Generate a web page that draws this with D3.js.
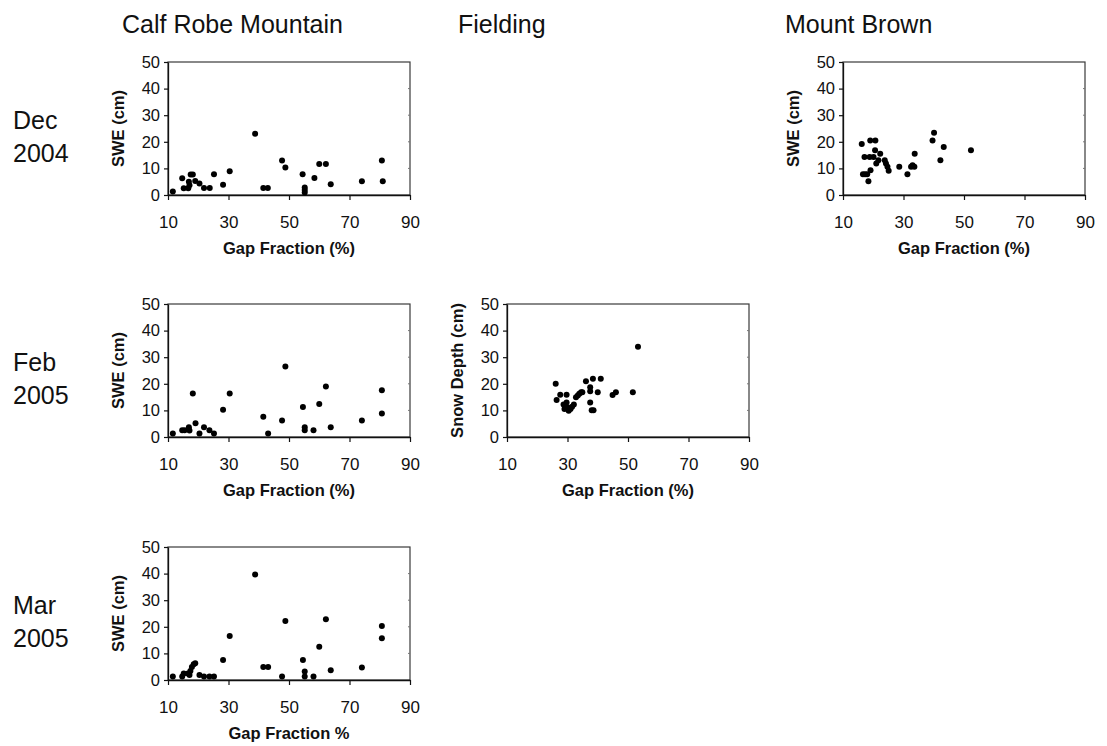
<!DOCTYPE html>
<html>
<head>
<meta charset="utf-8">
<script src="https://cdn.jsdelivr.net/npm/d3@7"></script>
<style>
  body { margin: 0; background: #fff; }
  svg text { font-family: "Liberation Sans", Arial, Helvetica, sans-serif; fill: #111; }
</style>
</head>
<body>
<svg id="fig" width="1107" height="746"></svg>
<script>
// ---- data: [gap fraction %, value cm] ----
const calfDec = [
  [11.6,1.3],[14.7,6.3],[15.2,2.5],[16.7,2.5],[16.9,5.0],[17.1,3.7],[17.5,7.7],[18.2,7.7],
  [19.0,5.3],[20.4,4.3],[21.9,2.6],[23.8,2.6],[25.2,7.8],[28.2,3.9],[30.4,8.9],[38.8,23.0],
  [41.5,2.6],[43.0,2.6],[47.7,13.0],[48.8,10.3],[54.5,7.8],[55.2,2.8],[55.2,1.9],[55.2,0.9],
  [58.4,6.4],[60.0,11.7],[62.2,11.7],[63.8,4.0],[74.1,5.2],[80.7,13.0],[81.0,5.2]
];
const calfFeb = [
  [11.6,1.3],[14.7,2.5],[15.5,2.5],[16.9,3.7],[17.1,2.4],[18.2,16.4],[19.1,5.2],[20.4,1.3],
  [21.9,3.7],[23.7,2.5],[25.2,1.3],[28.2,10.2],[30.4,16.4],[41.5,7.6],[43.1,1.3],[47.7,6.2],
  [48.8,26.5],[54.6,11.3],[55.2,3.7],[55.2,2.5],[58.1,2.5],[60.0,12.4],[62.2,19.0],[63.8,3.7],
  [74.1,6.2],[80.7,17.6],[80.7,8.8]
];
const calfMar = [
  [11.6,1.3],[14.7,1.3],[15.2,2.4],[16.6,2.4],[17.1,1.9],[17.4,3.4],[17.9,4.9],[18.5,5.9],
  [19.0,6.3],[20.4,1.9],[21.9,1.3],[23.7,1.3],[25.2,1.3],[28.2,7.5],[30.4,16.5],[38.8,39.7],
  [41.5,4.9],[43.1,4.9],[47.7,1.3],[48.8,22.2],[54.6,7.5],[55.2,3.2],[55.2,1.3],[58.1,1.3],
  [60.0,12.5],[62.2,22.8],[63.8,3.7],[74.1,4.7],[80.7,20.3],[80.7,15.7]
];
const brownDec = [
  [16.2,19.2],[16.6,7.8],[17.3,7.8],[18.0,7.8],[17.1,14.3],[18.8,14.3],[20.1,14.3],[18.4,5.2],
  [19.0,20.5],[20.7,20.5],[19.1,9.3],[20.6,16.8],[21.0,11.8],[21.7,13.1],[22.3,15.5],[23.8,13.1],
  [24.2,11.8],[24.7,10.6],[25.1,9.1],[28.6,10.6],[31.3,7.8],[32.5,10.6],[33.0,11.2],[33.6,10.6],
  [33.7,15.5],[39.6,20.5],[40.1,23.4],[42.2,13.1],[43.3,18.0],[52.3,16.8]
];
const fieldingFeb = [
  [26.1,20.0],[26.4,13.9],[27.6,15.9],[28.7,12.2],[29.0,10.5],[29.7,15.9],[29.7,13.0],[30.1,11.1],
  [30.4,9.9],[31.0,10.5],[31.5,11.4],[32.1,12.2],[32.8,14.9],[33.4,15.6],[33.9,16.3],[34.5,16.8],
  [34.9,16.8],[36.1,21.0],[37.5,18.7],[37.5,17.2],[37.5,13.0],[38.0,10.1],[38.6,10.1],[38.4,21.9],
  [40.0,16.8],[41.0,21.9],[44.9,15.8],[46.0,16.8],[51.6,16.8],[53.3,33.9]
];

const siteNames = ["Calf Robe Mountain", "Fielding", "Mount Brown"];
const periodLabels = [["Dec", "2004"], ["Feb", "2005"], ["Mar", "2005"]];
const xTicks = [10, 30, 50, 70, 90];
const yTicks = [0, 10, 20, 30, 40, 50];

const panels = [
  { col: 0, row: 0, data: calfDec,     yTitle: "SWE (cm)",        xTitle: "Gap Fraction (%)" },
  { col: 2, row: 0, data: brownDec,    yTitle: "SWE (cm)",        xTitle: "Gap Fraction (%)" },
  { col: 0, row: 1, data: calfFeb,     yTitle: "SWE (cm)",        xTitle: "Gap Fraction (%)" },
  { col: 1, row: 1, data: fieldingFeb, yTitle: "Snow Depth (cm)", xTitle: "Gap Fraction (%)" },
  { col: 0, row: 2, data: calfMar,     yTitle: "SWE (cm)",        xTitle: "Gap Fraction %" }
];

// ---- layout ----
const colLeft = [168, 507, 843];
const rowTop = [62, 304, 547];
const plotW = 242, plotH = 133;
const titleX = [122, 458, 785];

const svg = d3.select("#fig");

// column headings
siteNames.forEach((name, i) => {
  svg.append("text")
    .attr("x", titleX[i]).attr("y", 33)
    .attr("font-size", 25)
    .text(name);
});

// row headings
periodLabels.forEach((lines, i) => {
  const t = svg.append("text").attr("font-size", 25);
  lines.forEach((s, k) => {
    t.append("tspan").attr("x", 13).attr("y", rowTop[i] + 67 + k * 33).text(s);
  });
});

function drawPanel(p) {
  const x0 = colLeft[p.col], y0 = rowTop[p.row];
  const x = d3.scaleLinear().domain([10, 90]).range([x0, x0 + plotW]);
  const y = d3.scaleLinear().domain([0, 50]).range([y0 + plotH, y0]);
  const g = svg.append("g");

  // plot frame
  g.append("rect")
    .attr("x", x0).attr("y", y0).attr("width", plotW).attr("height", plotH)
    .attr("fill", "none").attr("stroke", "#3a3a3a").attr("stroke-width", 1.2);

  // small inner ticks on the right edge
  g.selectAll("line.rt").data(yTicks.slice(1, -1)).join("line")
    .attr("x1", x0 + plotW - 2).attr("x2", x0 + plotW)
    .attr("y1", d => y(d)).attr("y2", d => y(d))
    .attr("stroke", "#777").attr("stroke-width", 1);

  // x axis
  const xa = g.append("g")
    .attr("transform", `translate(0,${y0 + plotH})`)
    .call(d3.axisBottom(x).tickValues(xTicks).tickSize(5).tickSizeOuter(0).tickPadding(16));
  xa.selectAll("text").attr("font-size", 17).attr("font-family", null);

  // y axis
  const ya = g.append("g")
    .attr("transform", `translate(${x0},0)`)
    .call(d3.axisLeft(y).tickValues(yTicks).tickSize(4).tickSizeOuter(0).tickPadding(4));
  ya.selectAll("text").attr("font-size", 16.5).attr("font-family", null);

  [xa, ya].forEach(a => {
    a.select(".domain").attr("stroke", "#111").attr("stroke-width", 1.3);
    a.selectAll(".tick line").attr("stroke", "#111").attr("stroke-width", 1.2);
    a.selectAll("text").attr("fill", "#111");
  });

  // axis titles
  g.append("text")
    .attr("x", x0 + plotW / 2).attr("y", y0 + plotH + 59)
    .attr("text-anchor", "middle")
    .attr("font-size", 16.5).attr("font-weight", "bold")
    .text(p.xTitle);
  g.append("text")
    .attr("transform", `translate(${x0 - 44},${y0 + plotH / 2}) rotate(-90)`)
    .attr("text-anchor", "middle")
    .attr("font-size", 16.5).attr("font-weight", "bold")
    .text(p.yTitle);

  // observations
  g.selectAll("circle").data(p.data).join("circle")
    .attr("cx", d => x(d[0])).attr("cy", d => y(d[1]))
    .attr("r", 3).attr("fill", "#000");
}

panels.forEach(drawPanel);
</script>
</body>
</html>
